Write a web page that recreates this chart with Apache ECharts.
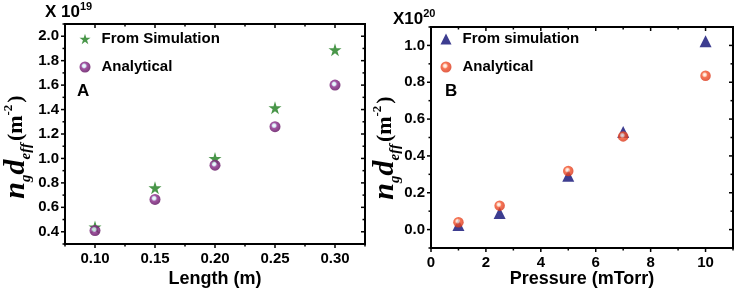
<!DOCTYPE html>
<html>
<head>
<meta charset="utf-8">
<script src="https://cdn.jsdelivr.net/npm/echarts@6/dist/echarts.min.js"></script>
<style>
  html, body { margin: 0; padding: 0; background: #fff; }
  #main { width: 737px; height: 291px; }
</style>
</head>
<body>
<div id="main"></div>
<script>
// panel A : length scan
var lenX = [0.10, 0.15, 0.20, 0.25, 0.30];
var simA = [0.44, 0.76, 1.00, 1.415, 1.89];
var anaA = [0.41, 0.665, 0.945, 1.26, 1.60];
var lenTicks = [0.075, 0.1, 0.125, 0.15, 0.175, 0.2, 0.225, 0.25, 0.275, 0.3, 0.325];
var ndA_Ticks = [0.3, 0.4, 0.5, 0.6, 0.7, 0.8, 0.9, 1.0, 1.1, 1.2, 1.3, 1.4, 1.5, 1.6, 1.7, 1.8, 1.9, 2.0, 2.1];

// panel B : pressure scan
var presX = [1, 2.5, 5, 7, 10];
var simB = [0.025, 0.09, 0.292, 0.53, 1.023];
var anaB = [0.04, 0.13, 0.318, 0.506, 0.835];
var presTicks = [0, 1, 2, 3, 4, 5, 6, 7, 8, 9, 10, 11];
var ndB_Ticks = [-0.1, 0, 0.1, 0.2, 0.3, 0.4, 0.5, 0.6, 0.7, 0.8, 0.9, 1.0, 1.1];

var chart = echarts.init(document.getElementById('main'));

var black = '#000';
var sans = '"Liberation Sans", Arial, sans-serif';
var serif = '"Liberation Serif", "Times New Roman", serif';

function isMajor(v, step) { return Math.round(v / step) % 2 === 0; }

// labels only on every second tick (the others are minor ticks)
function everyOther(step, digits) {
  return function (v) { return isMajor(v, step) ? v.toFixed(digits) : ''; };
}

function labelAxis(grid, pos, min, max, step, fmt, extra) {
  var a = {
    gridIndex: grid, type: 'value', position: pos, min: min, max: max, interval: step,
    axisLine: { show: true, onZero: false, lineStyle: { color: black, width: 2 } },
    axisTick: { show: false },
    splitLine: { show: false },
    axisLabel: { show: true, color: black, fontFamily: sans, fontWeight: 'bold',
                 fontSize: 15, margin: pos === 'left' ? 6 : 7, formatter: fmt }
  };
  if (extra) for (var k in extra) a[k] = extra[k];
  return a;
}

var nameStyle = { color: black, fontFamily: sans, fontWeight: 'bold', fontSize: 18 };

var xAxes = [
  labelAxis(0, 'bottom', 0.075, 0.325, 0.025, everyOther(0.025, 2),
    { name: 'Length (m)', nameLocation: 'middle', nameGap: 26, nameMoveOverlap: false,
      nameTextStyle: nameStyle }),
  labelAxis(1, 'bottom', 0, 11, 1, everyOther(1, 0),
    { name: 'Pressure (mTorr)', nameLocation: 'middle', nameGap: 22, nameMoveOverlap: false,
      nameTextStyle: nameStyle })
];

var yAxes = [
  labelAxis(0, 'left', 0.3, 2.1, 0.1, everyOther(0.1, 1)),
  labelAxis(1, 'left', -0.1, 1.1, 0.1, everyOther(0.1, 1))
];

// frame box and ticks, placed through the axes' own scale (api.coord)
function frameRender(stepX, stepY) {
  return function (params, api) {
    var cs = params.coordSys;
    var L = cs.x, T = cs.y, R = cs.x + cs.width, B = cs.y + cs.height;
    var kind = api.value(0), v = api.value(1);
    function bar(x, y, w, h) {
      return { type: 'rect', shape: { x: x, y: y, width: w, height: h }, style: { fill: black } };
    }
    var lw = 2, tw = 1.5;
    if (kind === 2) {
      return { type: 'group', children: [
        bar(L - lw / 2, T - lw / 2, cs.width + lw, lw),
        bar(L - lw / 2, B - lw / 2, cs.width + lw, lw),
        bar(L - lw / 2, T - lw / 2, lw, cs.height + lw),
        bar(R - lw / 2, T - lw / 2, lw, cs.height + lw)
      ] };
    }
    if (kind === 0) {
      var x = api.coord([v, 0])[0];
      var lx = isMajor(v, stepX) ? 4 : 2.5;
      return { type: 'group', children: [
        bar(x - tw / 2, B, tw, lx),
        bar(x - tw / 2, T, tw, lx)
      ] };
    }
    var y = api.coord([0, v])[1];
    var ly = isMajor(v, stepY) ? 4 : 2.5;
    return { type: 'group', children: [
      bar(L - ly, y - tw / 2, ly, tw),
      bar(R - ly, y - tw / 2, ly, tw)
    ] };
  };
}

function frameData(xt, yt) {
  return xt.map(function (v) { return [0, v]; })
    .concat(yt.map(function (v) { return [1, v]; }))
    .concat([[2, 0]]);
}

var starPath = 'path://M50,0 L61,35 L98,35 L68,57 L79,91 L50,70 L21,91 L32,57 L2,35 L39,35 Z';

function sphere(light, mid, dark) {
  return {
    type: 'radial', x: 0.42, y: 0.4, r: 0.6,
    colorStops: [
      { offset: 0, color: '#ffffff' },
      { offset: 0.25, color: light },
      { offset: 0.45, color: mid },
      { offset: 1, color: dark }
    ]
  };
}

function pairs(xs, ys) {
  return xs.map(function (x, i) { return [x, ys[i]]; });
}

// y-axis title n_g d_eff (m^-2)
var ndTitle = {
  text: '{n|n}{sub|g}{n|d}{sub|eff}{m|(m}{sup|-2}{m|)}',
  rich: {
    n: { fontFamily: serif, fontStyle: 'italic', fontWeight: 'bold', fontSize: 30,
         lineHeight: 36, verticalAlign: 'middle', fill: black },
    sub: { fontFamily: serif, fontStyle: 'italic', fontWeight: 'bold', fontSize: 15,
           lineHeight: 15, verticalAlign: 'bottom', fill: black },
    m: { fontFamily: serif, fontWeight: 'bold', fontSize: 22,
         lineHeight: 36, verticalAlign: 'middle', fill: black, padding: [0, 0, 0, 2] },
    sup: { fontFamily: serif, fontWeight: 'bold', fontSize: 13,
           lineHeight: 13, verticalAlign: 'top', fill: black, padding: [4, 0, 0, 0] }
  },
  align: 'center', verticalAlign: 'middle'
};

function exponent(txt) {
  return {
    text: txt,
    rich: {
      b: { fontFamily: sans, fontWeight: 'bold', fontSize: 17, lineHeight: 20,
           verticalAlign: 'bottom', fill: black },
      s: { fontFamily: sans, fontWeight: 'bold', fontSize: 11, lineHeight: 11,
           verticalAlign: 'top', fill: black }
    },
    align: 'left', verticalAlign: 'middle'
  };
}

function legendAt(left, names) {
  return {
    data: names, orient: 'vertical', left: left, top: 31.5, padding: 0,
    itemWidth: 11, itemHeight: 11, itemGap: 13,
    textStyle: { color: black, fontFamily: sans, fontWeight: 'bold', fontSize: 15,
                 lineHeight: 15, padding: [0, 0, 0, 6] },
    selectedMode: false
  };
}

var option = {
  backgroundColor: '#fff',
  animation: false,
  grid: [
    { left: 65, top: 24, width: 300, height: 220, containLabel: false, outerBoundsMode: 'none' },
    { left: 431, top: 27, width: 302, height: 221, containLabel: false, outerBoundsMode: 'none' }
  ],
  xAxis: xAxes,
  yAxis: yAxes,
  legend: [
    legendAt(79.5, ['From Simulation', 'Analytical']),
    legendAt(440.5, ['From simulation', 'Analytical '])
  ],
  series: [
    {
      type: 'custom', xAxisIndex: 0, yAxisIndex: 0, clip: false, silent: true, z: 5,
      renderItem: frameRender(0.025, 0.1), data: frameData(lenTicks, ndA_Ticks)
    },
    {
      type: 'custom', xAxisIndex: 1, yAxisIndex: 1, clip: false, silent: true, z: 5,
      renderItem: frameRender(1, 0.1), data: frameData(presTicks, ndB_Ticks)
    },
    {
      name: 'From Simulation', type: 'scatter', xAxisIndex: 0, yAxisIndex: 0,
      symbol: starPath, symbolSize: 13,
      itemStyle: { color: '#1c7c1c' },
      data: pairs(lenX, simA)
    },
    {
      name: 'Analytical', type: 'scatter', xAxisIndex: 0, yAxisIndex: 0,
      symbol: 'circle', symbolSize: 11,
      itemStyle: { color: sphere('#cfe6f5', '#8a2a8a', '#5c0c5c') },
      data: pairs(lenX, anaA)
    },
    {
      name: 'From simulation', type: 'scatter', xAxisIndex: 1, yAxisIndex: 1,
      symbol: 'triangle', symbolSize: 12,
      itemStyle: { color: '#0c0c74' },
      data: pairs(presX, simB)
    },
    {
      name: 'Analytical ', type: 'scatter', xAxisIndex: 1, yAxisIndex: 1,
      symbol: 'circle', symbolSize: 10.5,
      itemStyle: { color: sphere('#ffd0b8', '#f4522a', '#d8361a') },
      data: pairs(presX, anaB)
    }
  ],
  graphic: [
    { type: 'text', x: 16, y: 147, rotation: Math.PI / 2, style: ndTitle },
    { type: 'text', x: 385, y: 148, rotation: Math.PI / 2, style: ndTitle },
    { type: 'text', x: 45, y: 11, style: exponent('{b|X 10}{s|19}') },
    { type: 'text', x: 393, y: 18, style: exponent('{b|X10}{s|20}') },
    { type: 'text', x: 77, y: 91,
      style: { text: 'A', fontFamily: sans, fontWeight: 'bold', fontSize: 17, fill: black,
               verticalAlign: 'middle' } },
    { type: 'text', x: 445, y: 91,
      style: { text: 'B', fontFamily: sans, fontWeight: 'bold', fontSize: 17, fill: black,
               verticalAlign: 'middle' } }
  ]
};

chart.setOption(option);
</script>
</body>
</html>
